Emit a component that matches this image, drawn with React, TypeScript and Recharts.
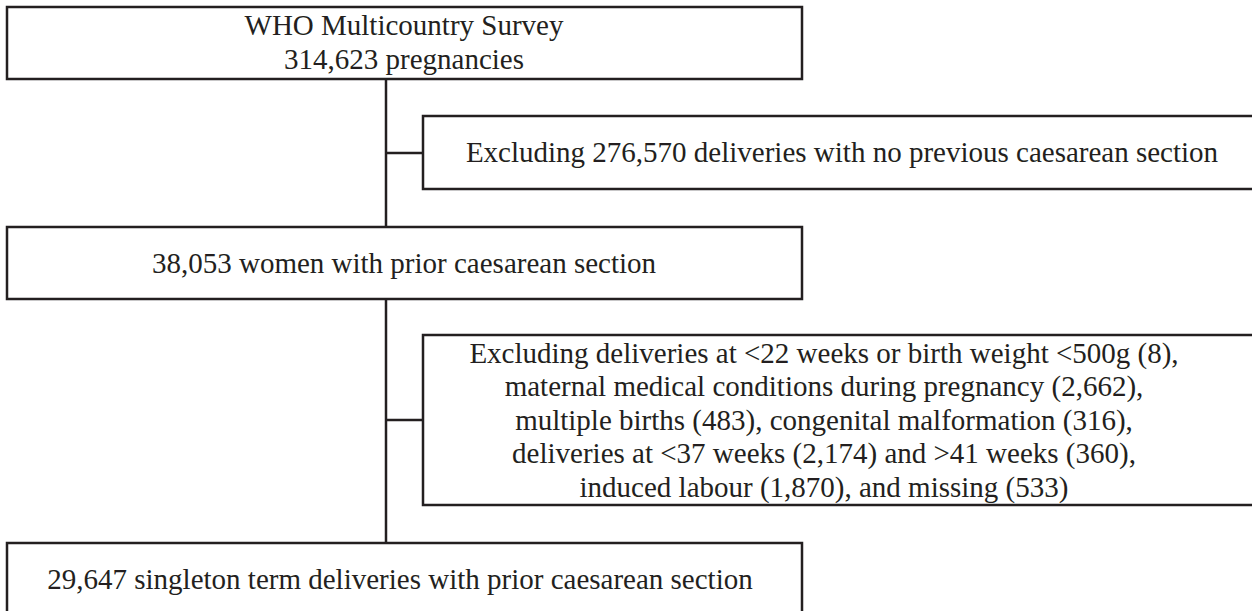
import { ComposedChart, XAxis, YAxis, ReferenceArea, ReferenceLine, Scatter } from 'recharts';

// counts shown in the flow diagram
const totalPregnancies = 314623;
const noPreviousCs = 276570;
const priorCs = 38053;
const finalSample = 29647;

const exclusionLabels = [
  'deliveries at <22 weeks or birth weight <500g',
  'maternal medical conditions during pregnancy',
  'multiple births',
  'congenital malformation',
  'deliveries at <37 weeks',
  '>41 weeks',
  'induced labour',
  'missing',
];
const exclusionCounts = [8, 2662, 483, 316, 2174, 360, 1870, 533];

const fmt = (n: number) => n.toLocaleString('en-US');
const ex = (i: number) => `${exclusionLabels[i]} (${fmt(exclusionCounts[i])})`;

// text per box, one entry per printed line
const box1Lines = ['WHO Multicountry Survey', `${fmt(totalPregnancies)} pregnancies`];
const box2Lines = [`Excluding ${fmt(noPreviousCs)} deliveries with no previous caesarean section`];
const box3Lines = [`${fmt(priorCs)} women with prior caesarean section`];
const box4Lines = [
  `Excluding ${ex(0)},`,
  `${ex(1)},`,
  `${ex(2)}, ${ex(3)},`,
  `${ex(4)} and ${ex(5)},`,
  `${ex(6)}, and ${ex(7)}`,
];
const box5Lines = [`${fmt(finalSample)} singleton term deliveries with prior caesarean section`];

// layout (page pixels)
const W = 1252;
const H = 611;
const INK = '#231f20';

const boxes = [
  { x1: 7, x2: 802, y1: 7, y2: 79 },
  { x1: 423, x2: 1262, y1: 116, y2: 189 },
  { x1: 7, x2: 802, y1: 227, y2: 299 },
  { x1: 423, x2: 1262, y1: 335, y2: 505 },
  { x1: 7, x2: 802, y1: 543, y2: 615 },
];

const connectors = [
  [{ x: 386, y: 79 }, { x: 386, y: 227 }],
  [{ x: 386, y: 153 }, { x: 423, y: 153 }],
  [{ x: 386, y: 299 }, { x: 386, y: 543 }],
  [{ x: 386, y: 420 }, { x: 423, y: 420 }],
];

const textBlocks = [
  { lines: box1Lines, cx: 404, y0: 35, gap: 34 },
  { lines: box2Lines, cx: 842, y0: 162, gap: 0 },
  { lines: box3Lines, cx: 404, y0: 272.5, gap: 0 },
  { lines: box4Lines, cx: 824, y0: 362.5, gap: 33.5 },
  { lines: box5Lines, cx: 400, y0: 588.5, gap: 0 },
];

const textPoints = textBlocks.flatMap((b) =>
  b.lines.map((text, i) => ({ x: b.cx, y: b.y0 + i * b.gap, text }))
);

const TextMark = (props: any) => {
  const { cx, cy, payload } = props;
  return (
    <text
      x={cx}
      y={cy}
      textAnchor="middle"
      fontFamily="'Liberation Serif', 'Times New Roman', serif"
      fontSize={29}
      fill={INK}
    >
      {payload.text}
    </text>
  );
};

export default function App() {
  return (
    <div style={{ position: 'absolute', left: 0, top: 0, background: '#fff' }}>
      <ComposedChart width={W} height={H} margin={{ top: 0, right: 0, bottom: 0, left: 0 }}>
        <XAxis type="number" dataKey="x" domain={[0, W]} hide allowDataOverflow />
        <YAxis type="number" dataKey="y" domain={[0, H]} reversed hide allowDataOverflow />
        {boxes.map((b, i) => (
          <ReferenceArea
            key={`box-${i}`}
            x1={b.x1}
            x2={b.x2}
            y1={b.y1}
            y2={b.y2}
            ifOverflow="visible"
            fill="#ffffff"
            fillOpacity={1}
            stroke={INK}
            strokeWidth={2.5}
          />
        ))}
        {connectors.map((seg, i) => (
          <ReferenceLine key={`line-${i}`} segment={seg} stroke={INK} strokeWidth={2.5} ifOverflow="visible" />
        ))}
        <Scatter data={textPoints} dataKey="y" shape={TextMark} isAnimationActive={false} />
      </ComposedChart>
    </div>
  );
}
